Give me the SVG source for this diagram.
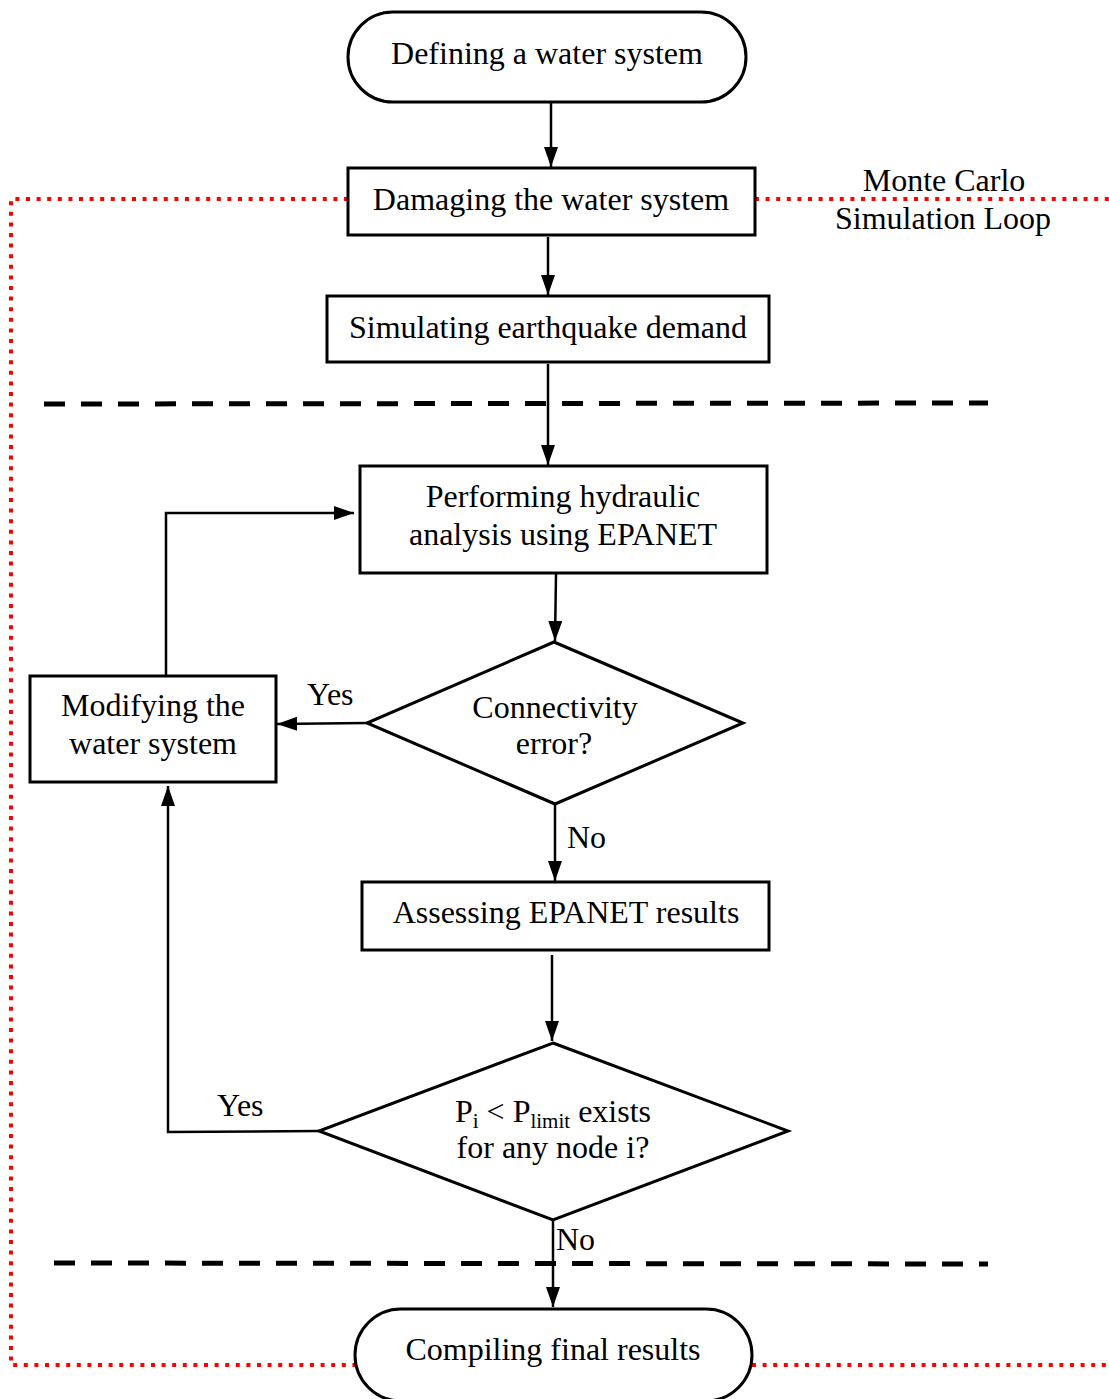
<svg xmlns="http://www.w3.org/2000/svg" width="1109" height="1399" viewBox="0 0 1109 1399">
<style>
text{font-family:"Liberation Serif","Times New Roman",serif;font-size:32px;fill:#000}
.c{text-anchor:middle}
.box{fill:#fff;stroke:#000;stroke-width:3}
.ln{fill:none;stroke:#000;stroke-width:2.5}
.dash{fill:none;stroke:#000;stroke-width:5;stroke-dasharray:21 16}
.red{fill:none;stroke:#ff0000;stroke-width:4;stroke-dasharray:4 6.6}
.sub{font-size:21px}
</style>
<defs>
<marker id="ah" markerWidth="20" markerHeight="14" refX="20" refY="7" orient="auto" markerUnits="userSpaceOnUse">
<path d="M0,0 L20,7 L0,14 Z" fill="#000"/>
</marker>
</defs>
<rect width="1109" height="1399" fill="#fff"/>
<g id="loop-boundary">
<polyline class="red" points="348,199 11,199 11,1365 355,1365"/>
<line class="red" x1="755" y1="199" x2="1109" y2="199"/>
<line class="red" x1="752" y1="1365" x2="1109" y2="1365"/>
</g>
<g id="separators">
<line class="dash" x1="44" y1="404" x2="988" y2="403"/>
<line class="dash" x1="54" y1="1263" x2="988" y2="1264"/>
</g>
<g id="loop-label">
<text class="c" x="944" y="191">Monte Carlo</text>
<text class="c" x="943" y="229">Simulation Loop</text>
</g>
<g id="connectors">
<line class="ln" x1="551" y1="102" x2="551" y2="167" marker-end="url(#ah)"/>
<line class="ln" x1="548" y1="237" x2="548" y2="295" marker-end="url(#ah)"/>
<line class="ln" x1="548" y1="364" x2="548" y2="465" marker-end="url(#ah)"/>
<line class="ln" x1="556" y1="574" x2="555" y2="641" marker-end="url(#ah)"/>
<line class="ln" x1="367" y1="723" x2="277" y2="724" marker-end="url(#ah)"/>
<polyline class="ln" points="166,676 166,513 354,513" marker-end="url(#ah)"/>
<line class="ln" x1="555" y1="804" x2="555" y2="881" marker-end="url(#ah)"/>
<line class="ln" x1="552" y1="955" x2="552" y2="1041" marker-end="url(#ah)"/>
<polyline class="ln" points="319,1131 168,1132 168,786" marker-end="url(#ah)"/>
<line class="ln" x1="553" y1="1220" x2="553" y2="1307" marker-end="url(#ah)"/>
<text x="307" y="705">Yes</text>
<text x="567" y="848">No</text>
<text x="217" y="1116">Yes</text>
<text x="556" y="1250">No</text>
</g>
<g id="n-define">
<rect class="box" x="348" y="12" width="398" height="90" rx="45" ry="45"/>
<text class="c" x="547" y="64">Defining a water system</text>
</g>
<g id="n-damage">
<rect class="box" x="348" y="168" width="407" height="67"/>
<text class="c" x="551" y="210">Damaging the water system</text>
</g>
<g id="n-simulate">
<rect class="box" x="327" y="296" width="442" height="66"/>
<text class="c" x="548" y="338">Simulating earthquake demand</text>
</g>
<g id="n-hydraulic">
<rect class="box" x="360" y="466" width="407" height="107"/>
<text class="c" x="563" y="507">Performing hydraulic</text>
<text class="c" x="563" y="545">analysis using EPANET</text>
</g>
<g id="n-connectivity">
<polygon class="box" points="554,642 743,723 555,804 367,723"/>
<text class="c" x="555" y="718">Connectivity</text>
<text class="c" x="554" y="754">error?</text>
</g>
<g id="n-modify">
<rect class="box" x="30" y="676" width="246" height="106"/>
<text class="c" x="153" y="716">Modifying the</text>
<text class="c" x="153" y="754">water system</text>
</g>
<g id="n-assess">
<rect class="box" x="362" y="882" width="407" height="68"/>
<text class="c" x="566" y="923">Assessing EPANET results</text>
</g>
<g id="n-pressure">
<polygon class="box" points="553,1043 788,1131 553,1220 319,1131"/>
<text class="c" x="553" y="1122">P<tspan class="sub" dy="6">i</tspan><tspan dy="-6"> &lt; P</tspan><tspan class="sub" dy="6">limit</tspan><tspan dy="-6"> exists</tspan></text>
<text class="c" x="553" y="1158">for any node i?</text>
</g>
<g id="n-compile">
<rect class="box" x="355" y="1309" width="397" height="92" rx="46" ry="46"/>
<text class="c" x="553" y="1360">Compiling final results</text>
</g>
</svg>
